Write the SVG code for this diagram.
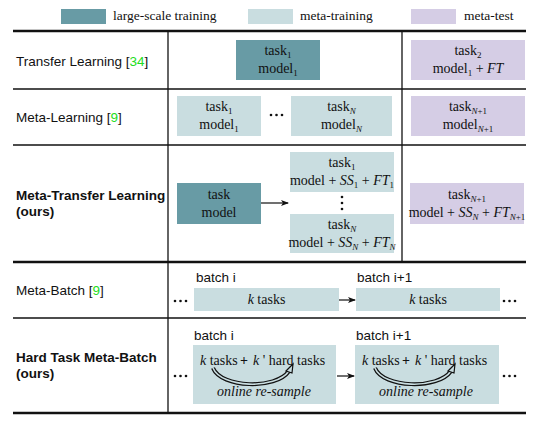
<svg xmlns="http://www.w3.org/2000/svg" width="537" height="422" viewBox="0 0 537 422">
<style>
.lg{fill:#689ba5}
.mt{fill:#c9dde0}
.ts{fill:#d5cde5}
.lbl{font-family:"Liberation Sans",Arial,sans-serif;font-size:13.5px;fill:#111}
.b{font-weight:bold}
.ref{fill:#22dd22}
.bx{font-family:"Liberation Serif","Times New Roman",serif;font-size:14px;fill:#111;text-anchor:middle}
.st{text-anchor:start}
.lgt{font-family:"Liberation Serif","Times New Roman",serif;font-size:13.5px;fill:#111}
.sub{font-size:9px}
.i{font-style:italic}
.rule{stroke:#111;fill:none}
.dot{fill:#111}
.arr{stroke:#111;stroke-width:1.2;fill:none;marker-end:url(#ah)}
.loop{fill:none;stroke:#111;stroke-width:4}
.loopin{fill:none;stroke:#c9dde0;stroke-width:1.6}
</style>
<defs>
<marker id="ah" markerWidth="8" markerHeight="6" refX="7" refY="3" orient="auto" markerUnits="userSpaceOnUse">
<path d="M0,0 L8,3 L0,6 L2,3 Z" fill="#111"/>
</marker>
</defs>
<rect width="537" height="422" fill="#fff"/>

<g id="legend">
<rect class="lg" x="61" y="9" width="45" height="15"/>
<text class="lgt" x="113" y="20">large-scale training</text>
<rect class="mt" x="248" y="9" width="45" height="15"/>
<text class="lgt" x="300" y="20">meta-training</text>
<rect class="ts" x="411" y="9" width="45" height="15"/>
<text class="lgt" x="464" y="20">meta-test</text>
</g>

<g id="table-rules">
<line class="rule" x1="13" y1="31" x2="526" y2="31" stroke-width="2.5"/>
<line class="rule" x1="13" y1="89" x2="526" y2="89" stroke-width="1.5"/>
<line class="rule" x1="13" y1="145" x2="526" y2="145" stroke-width="1.5"/>
<line class="rule" x1="13" y1="262" x2="526" y2="262" stroke-width="2.5"/>
<line class="rule" x1="13" y1="318" x2="526" y2="318" stroke-width="1.5"/>
<line class="rule" x1="13" y1="413" x2="526" y2="413" stroke-width="2.5"/>
<line class="rule" x1="168" y1="31" x2="168" y2="413" stroke-width="1.3"/>
<line class="rule" x1="402" y1="31" x2="402" y2="262" stroke-width="1.3"/>
</g>

<g id="row-labels">
<text class="lbl" x="16" y="66">Transfer Learning [<tspan class="ref">34</tspan>]</text>
<text class="lbl" x="16" y="122">Meta-Learning [<tspan class="ref">9</tspan>]</text>
<text class="lbl b" x="16" y="200">Meta-Transfer Learning</text>
<text class="lbl b" x="16" y="216">(ours)</text>
<text class="lbl" x="16" y="295">Meta-Batch [<tspan class="ref">9</tspan>]</text>
<text class="lbl b" x="16" y="362">Hard Task Meta-Batch</text>
<text class="lbl b" x="16" y="378">(ours)</text>
</g>

<g id="tl-train">
<rect class="lg" x="236" y="40" width="84" height="40"/>
<text class="bx" x="278" y="55">task<tspan class="sub" dy="3">1</tspan></text>
<text class="bx" x="278" y="73">model<tspan class="sub" dy="3">1</tspan></text>
</g>
<g id="tl-test">
<rect class="ts" x="411" y="40" width="114" height="40"/>
<text class="bx" x="468" y="55">task<tspan class="sub" dy="3">2</tspan></text>
<text class="bx" x="468" y="73">model<tspan class="sub" dy="3">1</tspan><tspan dy="-3"> + </tspan><tspan class="i">FT</tspan></text>
</g>

<g id="ml-task1">
<rect class="mt" x="177" y="96" width="84" height="40"/>
<text class="bx" x="219" y="111">task<tspan class="sub" dy="3">1</tspan></text>
<text class="bx" x="219" y="129">model<tspan class="sub" dy="3">1</tspan></text>
</g>
<g id="ml-dots">
<circle class="dot" cx="271" cy="115" r="1.3"/>
<circle class="dot" cx="276.5" cy="115" r="1.3"/>
<circle class="dot" cx="282" cy="115" r="1.3"/>
</g>
<g id="ml-taskN">
<rect class="mt" x="291" y="96" width="101" height="40"/>
<text class="bx" x="341.5" y="111">task<tspan class="sub i" dy="3">N</tspan></text>
<text class="bx" x="341.5" y="129">model<tspan class="sub i" dy="3">N</tspan></text>
</g>
<g id="ml-test">
<rect class="ts" x="411" y="96" width="114" height="40"/>
<text class="bx" x="468" y="111">task<tspan class="sub" dy="3"><tspan class="i">N</tspan>+1</tspan></text>
<text class="bx" x="468" y="129">model<tspan class="sub" dy="3"><tspan class="i">N</tspan>+1</tspan></text>
</g>

<g id="mtl-pretrain">
<rect class="lg" x="177" y="183" width="84" height="41"/>
<text class="bx" x="219" y="199">task</text>
<text class="bx" x="219" y="217">model</text>
</g>
<g id="mtl-task1">
<rect class="mt" x="290" y="152" width="104" height="40"/>
<text class="bx" x="342" y="167">task<tspan class="sub" dy="3">1</tspan></text>
<text class="bx" x="342" y="185">model + <tspan class="i">SS</tspan><tspan class="sub" dy="3">1</tspan><tspan dy="-3"> + </tspan><tspan class="i">FT</tspan><tspan class="sub" dy="3">1</tspan></text>
</g>
<g id="mtl-vdots">
<circle class="dot" cx="342" cy="197" r="1.3"/>
<circle class="dot" cx="342" cy="203" r="1.3"/>
<circle class="dot" cx="342" cy="209" r="1.3"/>
</g>
<g id="mtl-taskN">
<rect class="mt" x="290" y="214" width="104" height="39"/>
<text class="bx" x="342" y="229">task<tspan class="sub i" dy="3">N</tspan></text>
<text class="bx" x="342" y="247">model + <tspan class="i">SS</tspan><tspan class="sub i" dy="3">N</tspan><tspan dy="-3"> + </tspan><tspan class="i">FT</tspan><tspan class="sub i" dy="3">N</tspan></text>
</g>
<g id="mtl-test">
<rect class="ts" x="410" y="183" width="114" height="41"/>
<text class="bx" x="467" y="199">task<tspan class="sub" dy="3"><tspan class="i">N</tspan>+1</tspan></text>
<text class="bx" x="467" y="217">model + <tspan class="i">SS</tspan><tspan class="sub i" dy="3">N</tspan><tspan dy="-3"> + </tspan><tspan class="i">FT</tspan><tspan class="sub" dy="3"><tspan class="i">N</tspan>+1</tspan></text>
</g>

<g id="mb-batch1">
<text class="lbl" x="196" y="282">batch i</text>
<rect class="mt" x="194" y="288" width="145" height="23"/>
<text class="bx" x="266.5" y="304"><tspan class="i">k</tspan> tasks</text>
</g>
<g id="mb-batch2">
<text class="lbl" x="357" y="282">batch i+1</text>
<rect class="mt" x="356" y="288" width="144" height="23"/>
<text class="bx" x="428" y="304"><tspan class="i">k</tspan> tasks</text>
</g>
<g id="mb-dots">
<circle class="dot" cx="175" cy="301" r="1.3"/>
<circle class="dot" cx="180.5" cy="301" r="1.3"/>
<circle class="dot" cx="186" cy="301" r="1.3"/>
<circle class="dot" cx="504" cy="301" r="1.3"/>
<circle class="dot" cx="509.5" cy="301" r="1.3"/>
<circle class="dot" cx="515" cy="301" r="1.3"/>
</g>

<g id="htmb-batch1">
<text class="lbl" x="194" y="340">batch i</text>
<rect class="mt" x="193" y="345" width="143" height="59"/>
<text class="bx st" x="200" y="365"><tspan class="i">k</tspan> tasks</text>
<text class="bx b" x="244" y="365">+</text>
<text class="bx st" x="253" y="365"><tspan class="i">k</tspan> ' hard tasks</text>
<path class="loop" d="M213,368 C221,388 276,390 289,371"/>
<path class="loopin" d="M213,368 C221,388 276,390 289,371"/>
<path d="M286,371 L293,364 L292,373 Z" fill="#c9dde0" stroke="#111" stroke-width="1.2"/>
<text class="bx i" x="264" y="396">online re-sample</text>
</g>
<g id="htmb-batch2">
<text class="lbl" x="356" y="340">batch i+1</text>
<rect class="mt" x="355" y="345" width="144" height="59"/>
<text class="bx st" x="362" y="365"><tspan class="i">k</tspan> tasks</text>
<text class="bx b" x="406" y="365">+</text>
<text class="bx st" x="415" y="365"><tspan class="i">k</tspan> ' hard tasks</text>
<path class="loop" d="M375,368 C383,388 438,390 451,371"/>
<path class="loopin" d="M375,368 C383,388 438,390 451,371"/>
<path d="M448,371 L455,364 L454,373 Z" fill="#c9dde0" stroke="#111" stroke-width="1.2"/>
<text class="bx i" x="426" y="396">online re-sample</text>
</g>
<g id="htmb-dots">
<circle class="dot" cx="175" cy="376" r="1.3"/>
<circle class="dot" cx="180.5" cy="376" r="1.3"/>
<circle class="dot" cx="186" cy="376" r="1.3"/>
<circle class="dot" cx="504" cy="376" r="1.3"/>
<circle class="dot" cx="509.5" cy="376" r="1.3"/>
<circle class="dot" cx="515" cy="376" r="1.3"/>
</g>

<g id="connectors">
<line class="arr" x1="261" y1="203" x2="288" y2="203"/>
<line class="arr" x1="339" y1="300" x2="355" y2="300"/>
<line class="arr" x1="337" y1="376" x2="354" y2="376"/>
</g>
</svg>
